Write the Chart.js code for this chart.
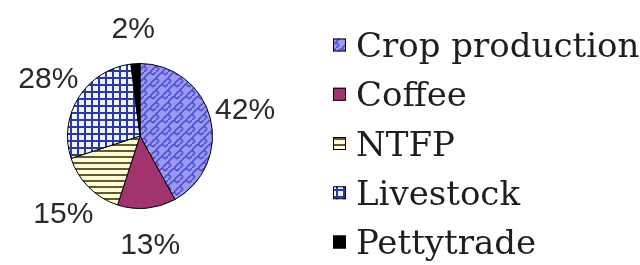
<!DOCTYPE html>
<html>
<head>
<meta charset="utf-8">
<script src="https://cdn.jsdelivr.net/npm/chart.js@4.4.0/dist/chart.umd.min.js"></script>
<style>
  html, body { margin: 0; padding: 0; background: #ffffff; }
  #wrap { width: 640px; height: 265px; }
</style>
</head>
<body>
<div id="wrap"><canvas id="c" width="640" height="265"></canvas></div>
<script>
// ---- data ----
const categories = ["Crop production", "Coffee", "NTFP", "Livestock", "Pettytrade"];
const shares = [42, 13, 15, 28, 2];

// ---- pattern fills ----
function makeTile(w, h, draw) {
  const c = document.createElement('canvas');
  c.width = w; c.height = h;
  const g = c.getContext('2d');
  draw(g, w, h);
  return document.getElementById('c').getContext('2d').createPattern(c, 'repeat');
}
const weave = makeTile(12, 12, (g) => {
  g.fillStyle = '#9a9af2'; g.fillRect(0, 0, 12, 12);
  g.strokeStyle = '#4e4ecf'; g.lineWidth = 1.6; g.lineCap = 'butt';
  g.beginPath();
  g.moveTo(0, 6); g.lineTo(6, 0);
  g.moveTo(6, 12); g.lineTo(12, 6);
  g.moveTo(6, 0); g.lineTo(9, 3);
  g.moveTo(0, 6); g.lineTo(3, 9);
  g.moveTo(3, 9); g.lineTo(0, 12);
  g.moveTo(9, 3); g.lineTo(12, 0);
  g.stroke();
});
const stripes = makeTile(1, 6, (g) => {
  g.fillStyle = '#fffbd2'; g.fillRect(0, 0, 1, 6);
  g.fillStyle = '#5e5a36'; g.fillRect(0, 0, 1, 2);
});
const grid = makeTile(7, 7, (g) => {
  g.fillStyle = '#eef3ff'; g.fillRect(0, 0, 7, 7);
  g.fillStyle = '#2b3a9e'; g.fillRect(0, 0, 7, 2); g.fillRect(0, 0, 2, 7);
});
const fills = [weave, '#a1346f', stripes, grid, '#000000'];

// ---- percentage labels outside the pie ----
const pctLabels = {
  id: 'pctLabels',
  afterDatasetsDraw(chart) {
    const ctx = chart.ctx;
    const meta = chart.getDatasetMeta(0);
    ctx.save();
    ctx.font = '30px "Liberation Sans", Arial, sans-serif';
    ctx.fillStyle = '#2a2a2a';
    ctx.textAlign = 'center';
    ctx.textBaseline = 'middle';
    meta.data.forEach((arc, i) => {
      const p = arc.getProps(['x', 'y', 'startAngle', 'endAngle', 'outerRadius'], true);
      const mid = (p.startAngle + p.endAngle) / 2;
      const d = p.outerRadius + 36;
      ctx.fillText(chart.data.datasets[0].data[i] + '%', p.x + Math.cos(mid) * d, p.y + Math.sin(mid) * d + 2);
    });
    ctx.restore();
  }
};

// ---- custom legend on the right ----
const sideLegend = {
  id: 'sideLegend',
  afterDraw(chart) {
    const ctx = chart.ctx;
    const ds = chart.data.datasets[0];
    ctx.save();
    ctx.font = '34px "DejaVu Serif", serif';
    ctx.textBaseline = 'alphabetic';
    ctx.textAlign = 'left';
    chart.data.labels.forEach((lab, i) => {
      const cy = 45 + i * 49.25;
      ctx.fillStyle = ds.backgroundColor[i];
      ctx.fillRect(333, cy - 6.5, 13, 13);
      ctx.strokeStyle = '#000000';
      ctx.lineWidth = 1;
      ctx.strokeRect(333.5, cy - 6, 12, 12);
      ctx.fillStyle = '#1e1e1e';
      ctx.fillText(lab, 356, cy + 12);
    });
    ctx.restore();
  }
};

new Chart(document.getElementById('c'), {
  type: 'pie',
  data: {
    labels: categories,
    datasets: [{
      data: shares,
      backgroundColor: fills,
      borderColor: '#000000',
      borderWidth: 1
    }]
  },
  options: {
    responsive: false,
    animation: false,
    layout: { padding: { left: 67, right: 427, top: 63, bottom: 56 } },
    plugins: {
      legend: { display: false },
      tooltip: { enabled: false }
    }
  },
  plugins: [pctLabels, sideLegend]
});
</script>
</body>
</html>
